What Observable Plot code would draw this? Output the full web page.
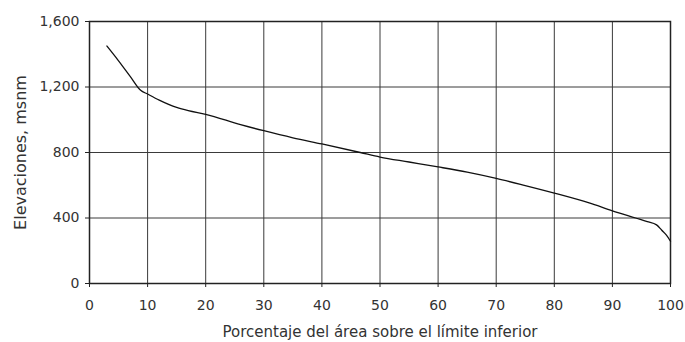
<!DOCTYPE html>
<html>
<head>
<meta charset="utf-8">
<script src="https://cdn.jsdelivr.net/npm/d3@7"></script>
<script src="https://cdn.jsdelivr.net/npm/@observablehq/plot@0.6"></script>
<style>
  html, body { margin: 0; padding: 0; background: #fff; }
  #chart svg { display: block; }
</style>
</head>
<body>
<div id="chart"></div>
<script>
const pct = [3, 5, 7, 8.8, 10, 12, 15, 17, 20, 26, 30, 35, 40, 46.6, 50, 55, 60, 65, 70, 75, 80, 86, 90, 94, 96, 97.6, 98.5, 99.3, 100];
const elev = [1450, 1360, 1265, 1180, 1157, 1120, 1075, 1055, 1033, 970, 933, 890, 852, 800, 772, 742, 712, 680, 642, 598, 552, 492, 444, 400, 378, 358, 325, 295, 258];
const xTicks = [0, 10, 20, 30, 40, 50, 60, 70, 80, 90, 100];
const yTicks = [0, 400, 800, 1200, 1600];
const xLabel = "Porcentaje del área sobre el límite inferior";
const yLabel = "Elevaciones, msnm";

const data = pct.map((p, i) => ({p, e: elev[i]}));

const chart = Plot.plot({
  width: 685,
  height: 342,
  marginLeft: 89,
  marginRight: 15,
  marginTop: 21,
  marginBottom: 59,
  style: {fontFamily: "DejaVu Sans, Verdana, sans-serif", fontSize: "14px", color: "#333", background: "#fff"},
  x: {domain: [0, 100], ticks: xTicks, label: null},
  y: {domain: [0, 1600], ticks: yTicks, label: null, tickFormat: d3.format(",")},
  marks: [
    Plot.gridX(xTicks, {stroke: "#3a3a3a", strokeOpacity: 1, strokeWidth: 1}),
    Plot.gridY(yTicks, {stroke: "#3a3a3a", strokeOpacity: 1, strokeWidth: 1}),
    Plot.frame({stroke: "#222", strokeWidth: 1.5}),
    Plot.axisX(xTicks, {tickSize: 4, tickPadding: 13, stroke: "#222", fontSize: 14, fill: "#333"}),
    Plot.axisY(yTicks, {tickSize: 4, tickPadding: 6, stroke: "#222", fontSize: 14, fill: "#333", tickFormat: d3.format(",")}),
    Plot.text([xLabel], {frameAnchor: "bottom", dy: 49, fontSize: 15, fill: "#333", lineAnchor: "middle"}),
    Plot.text([yLabel], {frameAnchor: "left", dx: -69, rotate: -90, textAnchor: "middle", fontSize: 16, fill: "#333", lineAnchor: "middle"}),
    Plot.line(data, {x: "p", y: "e", stroke: "#111", strokeWidth: 1.3, curve: "monotone-x"})
  ]
});
document.getElementById("chart").appendChild(chart);
</script>
</body>
</html>
